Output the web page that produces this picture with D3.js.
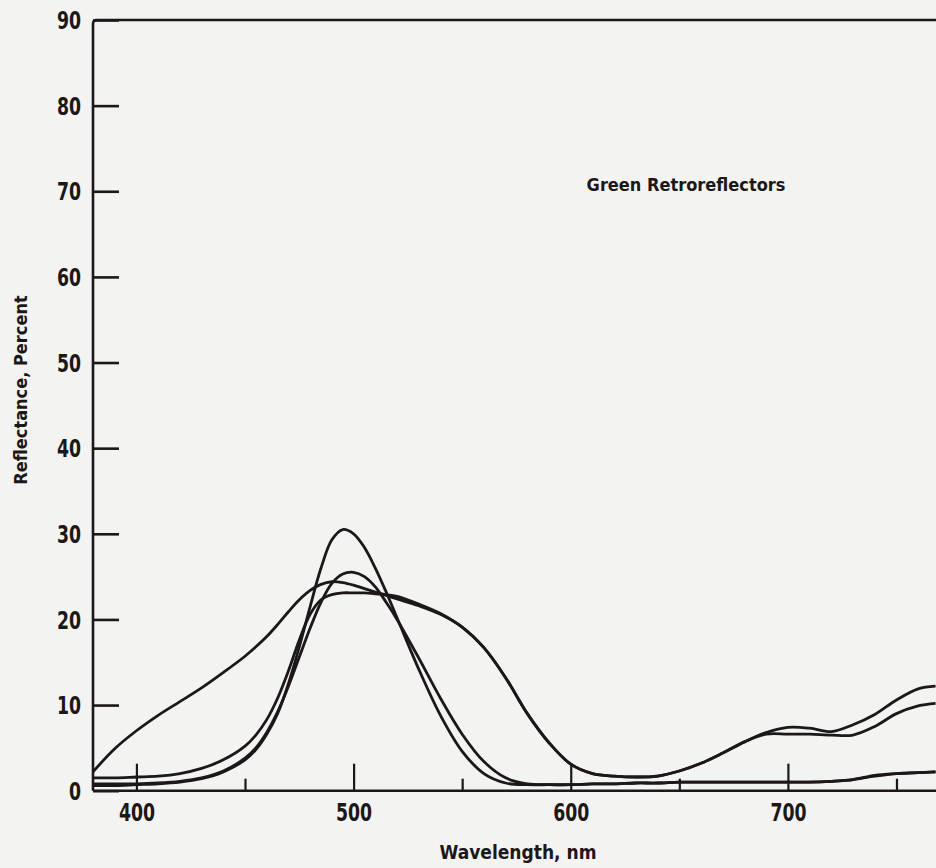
<!DOCTYPE html>
<html>
<head>
<meta charset="utf-8">
<script src="https://cdn.jsdelivr.net/npm/d3@7"></script>
<style>
  html, body { margin: 0; padding: 0; background: #f3f3f1; }
  svg { display: block; }
  .lbl { font-family: "DejaVu Sans Condensed", "DejaVu Sans", sans-serif; font-stretch: condensed; font-weight: bold; fill: #1c1718; }
</style>
</head>
<body>
<svg id="chart" width="936" height="868"></svg>
<script>
// Wavelength grid (nm) shared by all spectra
const wavelengths = [380, 390, 400, 410, 420, 430, 440, 450, 455, 460, 465, 470, 475, 480, 485, 490, 495, 500, 505, 510, 515, 520, 530, 540, 550, 560, 570, 580, 590, 600, 610, 620, 630, 640, 650, 660, 670, 680, 690, 700, 710, 720, 730, 740, 750, 760, 768];

// Reflectance (%) of the four green retroreflector samples
const broadSample = [2.2, 4.9, 7.0, 8.8, 10.4, 12.0, 13.8, 15.7, 16.8, 18.0, 19.4, 20.9, 22.3, 23.4, 24.1, 24.4, 24.3, 24.0, 23.6, 23.2, 22.8, 22.4, 21.6, 20.6, 19.1, 16.7, 13.2, 9.0, 5.6, 3.1, 2.0, 1.7, 1.6, 1.7, 2.3, 3.2, 4.4, 5.7, 6.8, 7.4, 7.3, 6.9, 7.7, 8.9, 10.6, 11.9, 12.2];
const plateauSample = [1.5, 1.5, 1.6, 1.7, 2.0, 2.6, 3.6, 5.2, 6.5, 8.3, 10.8, 14.0, 17.6, 20.6, 22.3, 22.9, 23.1, 23.1, 23.1, 23.0, 22.9, 22.7, 21.8, 20.7, 19.1, 16.7, 13.2, 9.0, 5.6, 3.1, 2.0, 1.7, 1.6, 1.7, 2.3, 3.2, 4.4, 5.7, 6.6, 6.6, 6.6, 6.5, 6.5, 7.5, 9.0, 9.9, 10.2];
const tallSample = [0.6, 0.6, 0.7, 0.8, 1.0, 1.4, 2.2, 3.6, 4.8, 6.6, 9.0, 12.5, 16.8, 21.5, 26.0, 29.3, 30.5, 30.0, 28.4, 26.0, 23.2, 20.2, 14.2, 8.8, 4.6, 2.0, 0.9, 0.7, 0.7, 0.7, 0.8, 0.8, 0.9, 0.9, 1.0, 1.0, 1.0, 1.0, 1.0, 1.0, 1.0, 1.1, 1.3, 1.8, 2.0, 2.1, 2.2];
const mediumSample = [0.8, 0.8, 0.8, 0.9, 1.1, 1.5, 2.3, 3.8, 5.0, 6.8, 9.2, 12.2, 15.6, 19.0, 22.0, 24.2, 25.3, 25.5, 25.0, 23.8, 22.0, 20.0, 15.5, 10.8, 6.6, 3.4, 1.5, 0.8, 0.7, 0.7, 0.8, 0.8, 0.9, 0.9, 1.0, 1.0, 1.0, 1.0, 1.0, 1.0, 1.0, 1.1, 1.3, 1.7, 2.0, 2.1, 2.2];

const xTicks = [400, 450, 500, 550, 600, 650, 700, 750];
const xLabelled = [400, 500, 600, 700];
const yTicks = [0, 10, 20, 30, 40, 50, 60, 70, 80, 90];

const titleText = "Green Retroreflectors";
const xTitle = "Wavelength, nm";
const yTitle = "Reflectance, Percent";

const ink = "#1c1718";
const narrow = 0.8; // horizontal squeeze for the condensed numerals
const svg = d3.select("#chart");

const x = d3.scaleLinear().domain([380, 768.2]).range([93, 936]);
const y = d3.scaleLinear().domain([0, 90]).range([790.7, 20]);

// Frame: left axis and top border with a softly rounded corner
svg.append("path")
  .attr("d", `M${x(380)},${y(0)} L${x(380)},${y(90) + 4} Q${x(380)},${y(90)} ${x(380) + 4},${y(90)} L936,${y(90)}`)
  .attr("fill", "none").attr("stroke", ink).attr("stroke-width", 2.6);

// Y axis: inward ticks, labels on the left
const yAxis = d3.axisLeft(y).tickValues(yTicks).tickSize(-26).tickPadding(12).tickFormat(d3.format("d"));
const gy = svg.append("g").attr("transform", `translate(${x(380)},0)`).call(yAxis);
gy.select(".domain").remove();
gy.selectAll(".tick line").attr("stroke", ink).attr("stroke-width", 2.6);
gy.selectAll(".tick text").attr("class", "lbl").attr("font-size", 24)
  .attr("x", -12 / narrow).attr("dy", "0.36em")
  .attr("transform", `scale(${narrow},1)`);

// X axis: long inward ticks at labelled wavelengths, short ones between
const xAxis = d3.axisBottom(x).tickValues(xTicks)
  .tickSize(0).tickPadding(14)
  .tickFormat(d => xLabelled.includes(d) ? d : "");
const gx = svg.append("g").attr("transform", `translate(0,${y(0)})`).call(xAxis);
gx.select(".domain").remove();
gx.selectAll(".tick line")
  .attr("y2", d => xLabelled.includes(d) ? -27 : -12)
  .attr("stroke", ink).attr("stroke-width", 2.2);
gx.selectAll(".tick text").attr("class", "lbl").attr("font-size", 24).attr("y", 13)
  .attr("transform", `scale(${narrow},1)`);
svg.append("line")
  .attr("x1", x(380)).attr("x2", 936).attr("y1", y(0)).attr("y2", y(0))
  .attr("stroke", ink).attr("stroke-width", 2.6);

// Spectra
const series = [broadSample, plateauSample, tallSample, mediumSample];
const line = d3.line()
  .x((d, i) => x(wavelengths[i]))
  .y(d => y(d))
  .curve(d3.curveCatmullRom.alpha(0.5));
svg.append("g").selectAll("path").data(series).join("path")
  .attr("d", line)
  .attr("fill", "none")
  .attr("stroke", ink)
  .attr("stroke-width", 2.8)
  .attr("stroke-linejoin", "round");

// Titles
svg.append("text").attr("class", "lbl")
  .attr("x", 686).attr("y", 191).attr("text-anchor", "middle").attr("font-size", 18)
  .text(titleText);
svg.append("text").attr("class", "lbl")
  .attr("x", 518).attr("y", 859).attr("text-anchor", "middle").attr("font-size", 19)
  .text(xTitle);
svg.append("text").attr("class", "lbl")
  .attr("transform", "translate(27,390) rotate(-90)")
  .attr("text-anchor", "middle").attr("font-size", 18)
  .text(yTitle);
</script>
</body>
</html>
